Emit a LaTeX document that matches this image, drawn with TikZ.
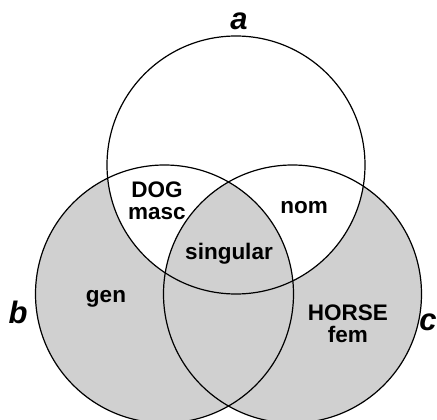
\documentclass[tikz,border=0pt]{standalone}
\usepackage{fontspec}
\setmainfont{Liberation Sans}
\usepackage{tikz}
\definecolor{venngray}{RGB}{208,208,208}
\tikzset{
  region/.style = {font=\bfseries\fontsize{22.5}{22}\selectfont, align=center, inner sep=0pt},
  setname/.style = {font=\bfseries\itshape\fontsize{31}{31}\selectfont, inner sep=0pt}
}

\begin{document}
\begin{tikzpicture}[x=1pt, y=-1pt]
\clip (0,0) rectangle (437,420);
\coordinate (A) at (236,165);
\coordinate (B) at (164.5,294);
\coordinate (C) at (292.5,294);

% shading
\fill[venngray] (B) circle (129);
\fill[venngray] (C) circle (129);
\fill[white] (A) circle (129);
\begin{scope}
\clip (B) circle (129);
\clip (C) circle (129);
\fill[venngray] (A) circle (129);
\end{scope}

% outlines
\draw[line width=1.2pt] (A) circle (129);
\draw[line width=1.2pt] (B) circle (129);
\draw[line width=1.2pt] (C) circle (129);

% labels
\node[setname] (la) at (239,21) {a};
\node[setname] (lb) at (18,312) {b};
\node[setname] (lc) at (428,322) {c};
\node[region] (dog) at (157,201) {DOG\\masc};
\node[region] (nom) at (304,208) {nom};
\node[region] (sing) at (229,254) {singular};
\node[region] (gen) at (106,299) {gen};
\node[region] (horse) at (348,324) {HORSE\\fem};
\end{tikzpicture}
\end{document}
